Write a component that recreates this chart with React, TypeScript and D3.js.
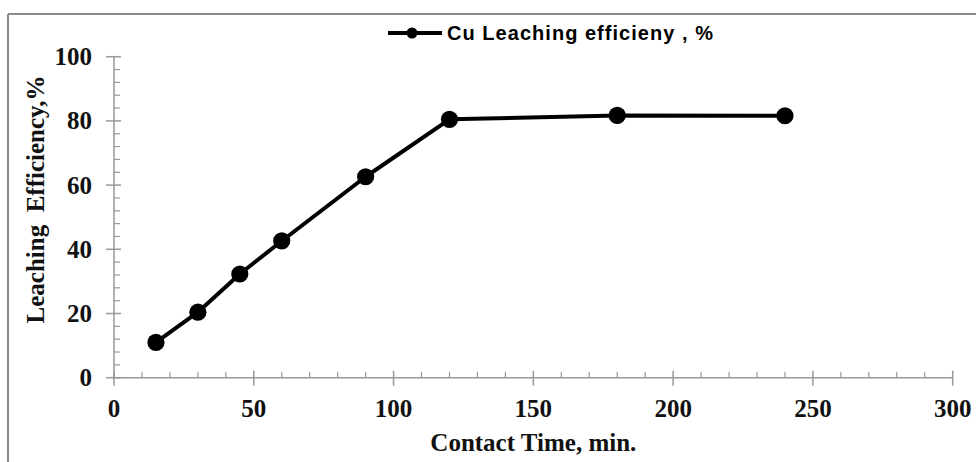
import React from "react";
import * as d3 from "d3";

// Cu leaching efficiency vs contact time
const timeMin = [15, 30, 45, 60, 90, 120, 180, 240];
const efficiency = [11, 20.4, 32.3, 42.6, 62.6, 80.5, 81.7, 81.6];
const xTicks = [0, 50, 100, 150, 200, 250, 300];
const yTicks = [0, 20, 40, 60, 80, 100];
const seriesName = "Cu Leaching efficieny , %";
const xTitle = "Contact Time, min.";
const yTitle = "Leaching  Efficiency,%";

const W = 976;
const H = 462;
const serif = "'Liberation Serif', 'Times New Roman', serif";
const sans = "'Liberation Sans', Arial, sans-serif";
const axisColor = "#999";

export default function App() {
  const x = d3.scaleLinear().domain([0, 300]).range([114, 952.7]);
  const y = d3.scaleLinear().domain([0, 100]).range([377.7, 56.7]);

  const xMinor = d3.range(0, 301, 10).filter((v) => v % 50 !== 0);
  const yMinor = d3.range(0, 101, 4).filter((v) => v % 20 !== 0);

  const pts: [number, number][] = timeMin.map((t, i) => [t, efficiency[i]]);
  const line = d3
    .line<[number, number]>()
    .x((d) => x(d[0]))
    .y((d) => y(d[1]));

  return (
    <svg
      width={W}
      height={H}
      style={{ position: "absolute", left: 0, top: 0, background: "#fff" }}
    >
      {/* frame */}
      <line x1={8} y1={14} x2={W} y2={14} stroke="#8a8a8a" strokeWidth={2} />
      <line x1={8} y1={14} x2={8} y2={H} stroke="#8a8a8a" strokeWidth={2} />

      {/* y axis */}
      <line x1={x(0)} y1={y(0)} x2={x(0)} y2={y(100)} stroke={axisColor} strokeWidth={1.5} />
      {yTicks.map((v) => (
        <g key={"yt" + v}>
          <line x1={x(0) - 8} x2={x(0) + 7} y1={y(v)} y2={y(v)} stroke={axisColor} strokeWidth={1.5} />
          <text
            x={92}
            y={y(v)}
            textAnchor="end"
            dominantBaseline="central"
            fontFamily={serif}
            fontWeight="bold"
            fontSize={25}
            fill="#111"
          >
            {v}
          </text>
        </g>
      ))}
      {yMinor.map((v) => (
        <line key={"ym" + v} x1={x(0)} x2={x(0) + 6} y1={y(v)} y2={y(v)} stroke={axisColor} strokeWidth={1.2} />
      ))}

      {/* x axis */}
      <line x1={x(0)} y1={y(0)} x2={x(300)} y2={y(0)} stroke={axisColor} strokeWidth={1.5} />
      {xTicks.map((v) => (
        <g key={"xt" + v}>
          <line x1={x(v)} x2={x(v)} y1={y(0) - 7} y2={y(0) + 8} stroke={axisColor} strokeWidth={1.5} />
          <text
            x={x(v)}
            y={416.5}
            textAnchor="middle"
            fontFamily={serif}
            fontWeight="bold"
            fontSize={25}
            fill="#111"
          >
            {v}
          </text>
        </g>
      ))}
      {xMinor.map((v) => (
        <line key={"xm" + v} x1={x(v)} x2={x(v)} y1={y(0) - 6} y2={y(0)} stroke={axisColor} strokeWidth={1.2} />
      ))}

      {/* axis titles */}
      <text
        x={(x(0) + x(300)) / 2}
        y={451}
        textAnchor="middle"
        fontFamily={serif}
        fontWeight="bold"
        fontSize={25}
        fill="#111"
      >
        {xTitle}
      </text>
      <text
        transform={`translate(44, ${(72 + 327) / 2}) rotate(-90)`}
        textAnchor="middle"
        fontFamily={serif}
        fontWeight="bold"
        fontSize={25}
        fill="#111"
        style={{ whiteSpace: "pre" }}
      >
        {yTitle}
      </text>

      {/* series */}
      <path d={line(pts) ?? ""} fill="none" stroke="#000" strokeWidth={4} strokeLinejoin="round" />
      {pts.map((d, i) => (
        <circle key={"p" + i} cx={x(d[0])} cy={y(d[1])} r={8.6} fill="#000" />
      ))}

      {/* legend */}
      <line x1={388} x2={442} y1={33} y2={33} stroke="#000" strokeWidth={4} />
      <circle cx={412} cy={33} r={5.5} fill="#000" />
      <text
        x={447}
        y={40}
        fontFamily={sans}
        fontWeight="bold"
        fontSize={20}
        fill="#000"
        textLength={266}
        lengthAdjust="spacing"
      >
        {seriesName}
      </text>
    </svg>
  );
}
